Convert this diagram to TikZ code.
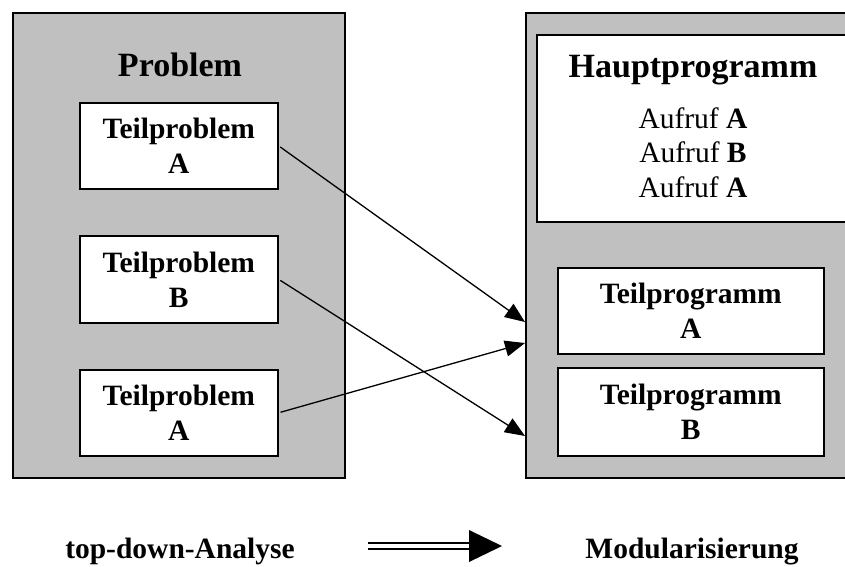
\documentclass[tikz,border=0pt]{standalone}
\usepackage{fontspec}
\setmainfont{Liberation Serif}
\usetikzlibrary{arrows.meta,positioning}
\definecolor{panelgray}{RGB}{192,192,192}
\tikzset{
    panel/.style={draw, line width=1.6pt, fill=panelgray, anchor=north west, inner sep=0pt},
    part/.style={draw, line width=1.6pt, fill=white, anchor=north west, inner sep=0pt, align=center, font=\fontsize{29.5}{35}\selectfont\bfseries},
    head/.style={anchor=base, font=\fontsize{34}{40}\selectfont\bfseries},
    call/.style={-{Triangle[length=20pt,width=16pt]}, line width=1.3pt, shorten <=2pt}}

\begin{document}
\begin{tikzpicture}[x=1pt,y=-1pt]
\clip (0,0) rectangle (845,566);

%left panel
\node[panel, minimum width=332, minimum height=465] (problem) at (12,12) {};
\node[head] (ptitle) at (180,76) {Problem};
\node[part, minimum width=198, minimum height=86] (tpA) at (79,102) {Teilproblem\\A};
\node[part, minimum width=198, minimum height=87] (tpB) at (79,235) {Teilproblem\\B};
\node[part, minimum width=198, minimum height=86] (tpC) at (79,369) {Teilproblem\\A};

%right panel
\node[panel, minimum width=335, minimum height=465] (program) at (525,12) {};
\node[part, minimum width=314, minimum height=187] (haupt) at (536,34) {};
\node[head] (htitle) at (693,77) {Hauptprogramm};
\node[align=center, inner sep=0pt, font=\fontsize{29.5}{34.5}\selectfont] (calls) at (693,152.5) {Aufruf \textbf{A}\\Aufruf \textbf{B}\\Aufruf \textbf{A}};
\node[part, minimum width=266, minimum height=86] (tgA) at (557,267) {Teilprogramm\\A};
\node[part, minimum width=266, minimum height=88] (tgB) at (557,367) {Teilprogramm\\B};

%arrows
\coordinate (inA) at (525,322);
\coordinate (inB) at (525,436);
\coordinate (inC) at (525,343);
\draw[call] (tpA.east)--(inA);
\draw[call] (tpB.east)--(inB);
\draw[call] (tpC.east)--(inC);

%bottom line
\node[anchor=base, font=\fontsize{29.5}{35}\selectfont\bfseries] (topdown) at (180,558) {top-down-Analyse};
\node[anchor=base, font=\fontsize{29.5}{35}\selectfont\bfseries] (modular) at (692,558) {Modularisierung};
\coordinate (dS) at (368,546);
\coordinate (dM) at (469,546);
\draw[double, double distance=3.7pt, line width=2.2pt] (dS)--(dM);
\fill (dM) -- ++(0,-16) -- ++(33,16) -- ++(-33,16) -- cycle;
\end{tikzpicture}
\end{document}
